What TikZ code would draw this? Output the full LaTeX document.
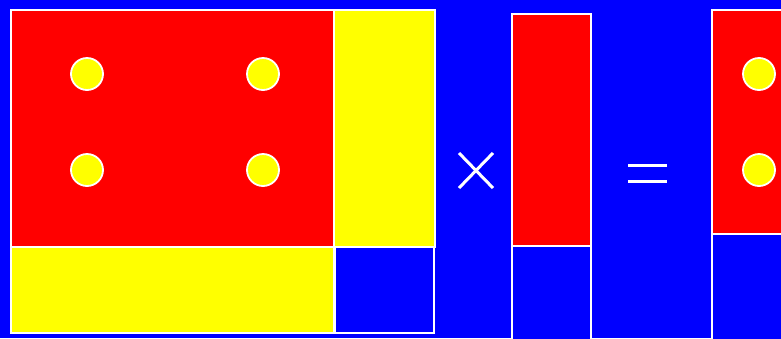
\documentclass[tikz,border=0pt]{standalone}
\definecolor{bg}{RGB}{0,0,255}
\definecolor{rd}{RGB}{255,0,0}
\definecolor{yl}{RGB}{255,255,0}
\begin{document}
\begin{tikzpicture}[x=1pt,y=-1pt,
  cell/.style={draw=white,line width=2.5pt},
  dot/.style={circle,fill=yl,draw=white,line width=1.8pt,minimum size=32pt,inner sep=0pt},
  sign/.style={draw=white,line width=3pt}]
\fill[bg] (0,0) rectangle (781,338);
\useasboundingbox (0,0) rectangle (781,338);
\begin{scope}
\clip (0,0) rectangle (781,338);
% left matrix
\draw[cell,fill=rd] (11,10) rectangle (334,247);
\draw[cell,fill=yl] (334,10) rectangle (435,247);
\draw[cell,fill=yl] (11,247) rectangle (334,333);
\draw[cell,fill=bg] (335,247) rectangle (434,333);
\node[dot] (d1) at (87,74) {};
\node[dot] (d2) at (263,74) {};
\node[dot] (d3) at (87,170) {};
\node[dot] (d4) at (263,170) {};
% times
\coordinate (t1) at (459,153); \coordinate (t2) at (493,188);
\coordinate (t3) at (459,188); \coordinate (t4) at (493,153);
\draw[sign] (t1) -- (t2);
\draw[sign] (t3) -- (t4);
% middle vector
\draw[cell,fill=rd] (512,14) rectangle (591,246);
\draw[cell,fill=bg] (512,246) rectangle (591,345);
% equals
\coordinate (e1) at (628,165); \coordinate (e2) at (667,165);
\coordinate (e3) at (628,181); \coordinate (e4) at (667,181);
\draw[sign] (e1) -- (e2);
\draw[sign] (e3) -- (e4);
% right vector
\draw[cell,fill=rd] (712,10) rectangle (800,234);
\draw[cell,fill=bg] (712,234) rectangle (800,345);
\node[dot] (r1) at (759,74) {};
\node[dot] (r2) at (759,170) {};
\end{scope}
\end{tikzpicture}
\end{document}
